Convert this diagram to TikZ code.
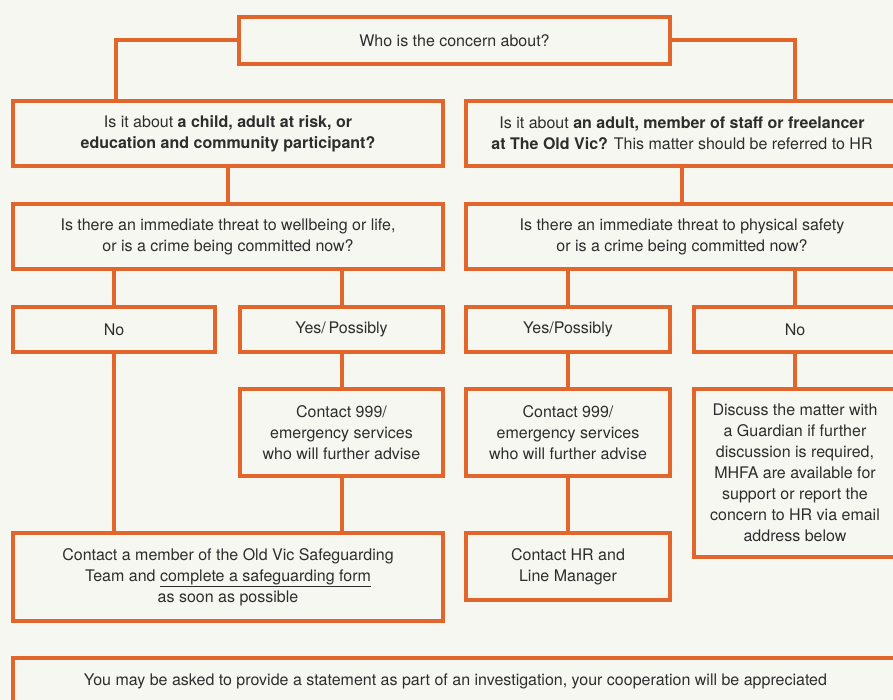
\documentclass[tikz,border=0pt]{standalone}
\usepackage{fontspec}
\setmainfont{TeX Gyre Heros}
\definecolor{ovorange}{RGB}{226,101,44}
\definecolor{ovpaper}{RGB}{247,247,242}
\definecolor{ovtext}{RGB}{45,45,45}
\tikzset{
  box/.style={draw=ovorange, line width=4pt, fill=ovpaper, align=center,
    inner sep=0pt, text=ovtext, font=\fontsize{16}{21}\selectfont},
  link/.style={draw=ovorange, line width=4pt},
}
\begin{document}
\begin{tikzpicture}[x=1pt, y=-1pt]
\useasboundingbox (0,0) rectangle (893,700);
\fill[ovpaper] (0,0) rectangle (893,700);
\clip (0,0) rectangle (893,700);

\node[box, minimum width=431pt, minimum height=47pt] (who) at (454.5, 40.5)
    {Who is the concern about?};

\node[box, minimum width=430pt, minimum height=65pt] (childq) at (228, 133.5)
    {Is it about \textbf{a child, adult at risk, or}\\
     \textbf{education and community participant?}};
\node[box, minimum width=432pt, minimum height=65pt] (staffq) at (682, 133.5)
    {Is it about \textbf{an adult, member of staff or freelancer}\\
     \textbf{at The Old Vic?} This matter should be referred to HR};

\node[box, minimum width=430pt, minimum height=65pt] (threatl) at (228, 236.5)
    {Is there an immediate threat to wellbeing or life,\\
     or is a crime being committed now?};
\node[box, minimum width=432pt, minimum height=65pt] (threatr) at (682, 236.5)
    {Is there an immediate threat to physical safety\\
     or is a crime being committed now?};

\node[box, minimum width=202pt, minimum height=45pt] (nol) at (114, 329.5) {No};
\node[box, minimum width=203pt, minimum height=45pt] (yesl) at (341.5, 329.5) {Yes/\,Possibly};
\node[box, minimum width=204pt, minimum height=45pt] (yesr) at (568, 329.5) {Yes/Possibly};
\node[box, minimum width=202pt, minimum height=45pt] (nor) at (795, 329.5) {No};

\node[box, minimum width=203pt, minimum height=87pt] (calll) at (341.5, 432.5)
    {Contact 999/\\ emergency services\\ who will further advise};
\node[box, minimum width=204pt, minimum height=87pt] (callr) at (568, 432.5)
    {Contact 999/\\ emergency services\\ who will further advise};
\node[box, minimum width=202pt, minimum height=168pt] (discuss) at (795, 473)
    {Discuss the matter with\\ a Guardian if further\\ discussion is required,\\
     MHFA are available for\\ support or report the\\ concern to HR via email\\
     address below};

\node[box, minimum width=430pt, minimum height=88pt] (safeg) at (228, 577)
    {Contact a member of the Old Vic Safeguarding\\
     Team and \underline{complete a safeguarding form}\\ as soon as possible};
\node[box, minimum width=204pt, minimum height=67pt] (hrlm) at (568, 566.5)
    {Contact HR and\\ Line Manager};

\node[box, minimum width=885pt, minimum height=46pt] (statement) at (455.5, 681)
    {You may be asked to provide a statement as part of an investigation, your cooperation will be appreciated};

\draw[link] (who.west) -| ([xshift=-112pt]childq.north);
\draw[link] (who.east) -| ([xshift=113pt]staffq.north);
\draw[link] (childq) -- (threatl);
\draw[link] (staffq) -- (threatr);
\draw[link] (nol.north) -- (nol.north |- threatl.south);
\draw[link] (yesl.north) -- (yesl.north |- threatl.south);
\draw[link] (yesr.north) -- (yesr.north |- threatr.south);
\draw[link] (nor.north) -- (nor.north |- threatr.south);
\draw[link] (yesl) -- (calll);
\draw[link] (yesr) -- (callr);
\draw[link] (nor) -- (discuss);
\draw[link] (nol.south) -- (nol.south |- safeg.north);
\draw[link] (calll.south) -- (calll.south |- safeg.north);
\draw[link] (callr) -- (hrlm);
\end{tikzpicture}
\end{document}
